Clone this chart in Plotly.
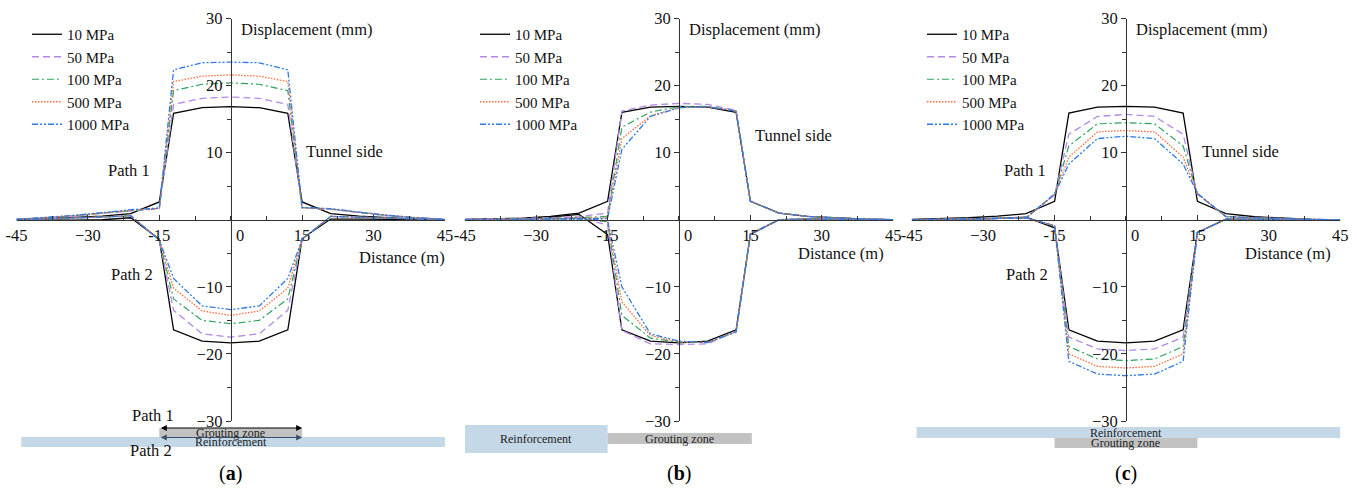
import plotly.graph_objects as go

# ---------------- data ----------------
distance = [-45, -39, -33, -27, -21, -15, -12, -6, 0, 6, 12, 15, 21, 27, 33, 39, 45]
series_names = ["10 MPa", "50 MPa", "100 MPa", "500 MPa", "1000 MPa"]

# panel (a) path 1 / path 2
a1_10 = [0.05, 0.15, 0.35, 0.55, 0.9, 2.65, 15.85, 16.7, 16.85, 16.7, 15.85, 2.65, 0.9, 0.55, 0.3, 0.1, 0.0]
a1_50 = [0.05, 0.25, 0.55, 0.95, 1.35, 1.65, 17.2, 18.1, 18.3, 18.1, 17.2, 1.75, 1.55, 1.05, 0.6, 0.3, 0.05]
a1_100 = [0.05, 0.3, 0.6, 1.0, 1.4, 1.7, 19.25, 20.2, 20.4, 20.2, 19.25, 1.8, 1.6, 1.1, 0.6, 0.3, 0.05]
a1_500 = [0.05, 0.3, 0.6, 1.0, 1.45, 1.7, 20.6, 21.4, 21.6, 21.4, 20.6, 1.8, 1.6, 1.1, 0.65, 0.3, 0.05]
a1_1000 = [0.05, 0.3, 0.65, 1.05, 1.5, 1.75, 22.35, 23.4, 23.5, 23.4, 22.35, 1.85, 1.65, 1.15, 0.65, 0.3, 0.05]
a2_10 = [0.0, -0.05, -0.05, 0.0, 0.3, -2.9, -16.4, -18.1, -18.35, -18.1, -16.4, -2.8, 0.1, 0.1, 0.05, 0.0, 0.0]
a2_50 = [0.0, 0.1, 0.2, 0.4, 0.6, -3.0, -13.5, -17.0, -17.5, -17.0, -13.5, -2.9, 0.5, 0.4, 0.2, 0.1, 0.0]
a2_100 = [0.0, 0.1, 0.2, 0.4, 0.6, -3.0, -11.8, -15.0, -15.5, -15.0, -11.8, -2.9, 0.5, 0.4, 0.2, 0.1, 0.0]
a2_500 = [0.0, 0.1, 0.2, 0.4, 0.6, -3.0, -10.2, -13.6, -14.25, -13.6, -10.2, -2.9, 0.5, 0.4, 0.2, 0.1, 0.0]
a2_1000 = [0.0, 0.1, 0.2, 0.4, 0.6, -3.0, -8.75, -12.85, -13.4, -12.85, -8.75, -2.9, 0.5, 0.4, 0.2, 0.1, 0.0]

# panel (b)
b1_10 = [0.05, 0.1, 0.25, 0.5, 1.0, 2.75, 16.0, 16.8, 16.9, 16.8, 16.0, 2.75, 1.0, 0.5, 0.25, 0.1, 0.0]
b1_50 = [0.05, 0.1, 0.2, 0.3, 0.45, 1.0, 16.2, 17.1, 17.35, 17.2, 16.3, 2.8, 1.0, 0.5, 0.25, 0.1, 0.0]
b1_100 = [0.0, 0.05, 0.1, 0.2, 0.3, 0.5, 13.8, 16.05, 16.85, 16.9, 16.2, 2.75, 1.0, 0.5, 0.25, 0.1, 0.0]
b1_500 = [0.0, 0.05, 0.1, 0.15, 0.25, 0.3, 12.1, 15.5, 16.7, 16.85, 16.2, 2.75, 1.0, 0.5, 0.25, 0.1, 0.0]
b1_1000 = [0.0, 0.05, 0.1, 0.15, 0.2, 0.2, 10.5, 15.4, 16.7, 16.85, 16.2, 2.75, 1.0, 0.5, 0.25, 0.1, 0.0]
b2_10 = [0.0, 0.05, 0.1, 0.4, 0.8, -2.2, -16.4, -18.1, -18.35, -18.1, -16.4, -2.2, 0.0, 0.1, 0.05, 0.0, 0.0]
b2_50 = [0.0, 0.05, 0.1, 0.2, 0.3, -0.8, -16.5, -18.5, -18.6, -18.5, -16.6, -2.2, 0.0, 0.1, 0.05, 0.0, 0.0]
b2_100 = [0.0, 0.0, 0.05, 0.1, 0.2, -0.3, -14.25, -17.65, -18.25, -18.3, -16.7, -2.1, 0.0, 0.1, 0.05, 0.0, 0.0]
b2_500 = [0.0, 0.0, 0.05, 0.1, 0.15, -0.2, -12.25, -17.25, -18.2, -18.3, -16.7, -2.1, 0.0, 0.1, 0.05, 0.0, 0.0]
b2_1000 = [0.0, 0.0, 0.05, 0.1, 0.1, -0.1, -10.0, -17.0, -18.1, -18.3, -16.7, -2.1, 0.0, 0.1, 0.05, 0.0, 0.0]

# panel (c)
c1_10 = [0.05, 0.15, 0.3, 0.55, 0.9, 2.75, 15.9, 16.8, 16.9, 16.8, 15.9, 2.75, 0.9, 0.45, 0.2, 0.05, 0.0]
c1_50 = [0.0, 0.05, 0.1, 0.15, 0.3, 3.7, 12.75, 15.4, 15.7, 15.4, 12.75, 3.8, 0.5, 0.3, 0.15, 0.05, 0.0]
c1_100 = [0.0, 0.05, 0.1, 0.15, 0.3, 3.75, 11.0, 14.3, 14.45, 14.3, 11.0, 3.85, 0.5, 0.3, 0.15, 0.05, 0.0]
c1_500 = [0.0, 0.05, 0.1, 0.15, 0.25, 3.8, 9.35, 13.1, 13.3, 13.1, 9.35, 3.9, 0.45, 0.3, 0.15, 0.05, 0.0]
c1_1000 = [0.0, 0.05, 0.1, 0.15, 0.25, 3.85, 8.3, 12.1, 12.45, 12.1, 8.3, 3.95, 0.45, 0.3, 0.15, 0.05, 0.0]
c2_10 = [0.0, 0.0, 0.05, 0.2, 0.4, -1.2, -16.4, -18.1, -18.35, -18.1, -16.4, -1.9, 0.1, 0.05, 0.0, 0.0, 0.0]
c2_50 = [-0.05, 0.0, 0.1, 0.2, 0.3, -0.9, -17.5, -19.25, -19.5, -19.25, -17.5, -1.9, 0.1, 0.05, 0.0, 0.0, 0.0]
c2_100 = [-0.05, 0.0, 0.1, 0.2, 0.3, -0.9, -18.9, -20.75, -21.0, -20.75, -18.9, -1.9, 0.1, 0.05, 0.0, 0.0, 0.0]
c2_500 = [-0.05, 0.0, 0.1, 0.2, 0.3, -0.9, -20.0, -21.85, -22.1, -21.85, -20.0, -1.9, 0.1, 0.05, 0.0, 0.0, 0.0]
c2_1000 = [-0.05, 0.0, 0.1, 0.2, 0.3, -0.9, -21.1, -23.0, -23.25, -23.0, -21.1, -1.9, 0.1, 0.05, 0.0, 0.0, 0.0]

x_tick_vals = [-45, -30, -15, 15, 30, 45]
x_tick_text = ["-45", "\u221230", "-15", "15", "30", "45"]
y_tick_vals = [-30, -20, -10, 10, 20, 30]
y_tick_text = ["\u221230", "\u221220", "\u221210", "10", "20", "30"]

# zones below each panel: (label, x0, x1)
zones_a = [("Grouting zone", -15, 15), ("Reinforcement", -44, 46)]
zones_b = [("Reinforcement", -45, -15), ("Grouting zone", -15, 15.3)]
zones_c = [("Reinforcement", -44, 46), ("Grouting zone", -15, 15)]

# ---------------- styling ----------------
FONT = "Liberation Serif"
FS = 16.5
W, H = 1357, 493
colors = ["#000000", "#b388eb", "#2ea35c", "#ff6a3c", "#2f7be8"]
dashes = ["solid", "7px,4px", "7px,3px,2px,3px", "1.5px,1.5px", "6px,2px,2px,2px,2px,2px"]
widths = [1.3, 1.3, 1.2, 1.3, 1.3]
x_domains = [[0.01216, 0.32786], [0.34252, 0.65822], [0.67192, 0.98762]]
y_domain = [1 - 421 / H, 1 - 18.5 / H]
legend_x = [27 / W, 475 / W, 922 / W]

panels = [
    ([a1_10, a1_50, a1_100, a1_500, a1_1000], [a2_10, a2_50, a2_100, a2_500, a2_1000]),
    ([b1_10, b1_50, b1_100, b1_500, b1_1000], [b2_10, b2_50, b2_100, b2_500, b2_1000]),
    ([c1_10, c1_50, c1_100, c1_500, c1_1000], [c2_10, c2_50, c2_100, c2_500, c2_1000]),
]

fig = go.Figure()
for p, (path1, path2) in enumerate(panels):
    xa = "x" if p == 0 else f"x{p+1}"
    ya = "y" if p == 0 else f"y{p+1}"
    lg = "legend" if p == 0 else f"legend{p+1}"
    for k in range(5):
        for path, show in ((path1, True), (path2, False)):
            fig.add_trace(go.Scatter(
                x=distance, y=path[k], mode="lines", name=series_names[k],
                line=dict(color=colors[k], dash=dashes[k], width=widths[k]),
                xaxis=xa, yaxis=ya, legend=lg, showlegend=show,
                hoverinfo="skip"))

layout = dict(
    width=W, height=H, margin=dict(l=0, r=0, t=0, b=0, autoexpand=False),
    paper_bgcolor="white", plot_bgcolor="white",
    font=dict(family=FONT, size=FS, color="#111111"),
)
axis_color = "#333333"
for p in range(3):
    sx = "" if p == 0 else str(p + 1)
    xd = x_domains[p]
    layout[f"xaxis{sx}"] = dict(
        domain=xd, range=[-45, 45], anchor="free",
        position=(y_domain[0] + y_domain[1]) / 2,
        showline=True, linecolor=axis_color, linewidth=1,
        showgrid=False, zeroline=False, automargin=False,
        tickmode="array", tickvals=x_tick_vals, ticktext=x_tick_text,
        ticks="inside", ticklen=5, tickcolor=axis_color,
        minor=dict(tickvals=[-37.5, -22.5, -7.5, 0, 7.5, 22.5, 37.5], ticks="inside", ticklen=4, tickcolor=axis_color),
        tickfont=dict(size=FS, family=FONT, color="#111111"),
        fixedrange=True,
    )
    layout[f"yaxis{sx}"] = dict(
        domain=y_domain, range=[-30, 30], anchor="free",
        position=(xd[0] + xd[1]) / 2,
        showline=True, linecolor=axis_color, linewidth=1,
        showgrid=False, zeroline=False, automargin=False,
        tickmode="array", tickvals=y_tick_vals, ticktext=y_tick_text,
        ticks="outside", ticklen=5, tickcolor=axis_color,
        minor=dict(tickvals=[-25, -15, -5, 5, 15, 25], ticks="outside", ticklen=4, tickcolor=axis_color),
        tickfont=dict(size=FS, family=FONT, color="#111111"),
        fixedrange=True,
    )
    lg = "legend" if p == 0 else f"legend{p+1}"
    layout[lg] = dict(
        x=legend_x[p], y=1 - 18 / H, xanchor="left", yanchor="top",
        bgcolor="rgba(0,0,0,0)", borderwidth=0, tracegroupgap=0,
        font=dict(size=15, family=FONT, color="#111111"),
    )
fig.update_layout(**layout)

ann = []
shapes = []
labels = ["a", "b", "c"]
# texts inside panels: (x, y) in data units per panel
disp_pos = [(16, 28.3), (16, 28.3), (16, 28.3)]
tunnel_pos = [(24, 10.1), (24, 12.6), (24, 10.1)]
dist_pos = [(36, -5.7), (34, -5.1), (34, -5.1)]
for p in range(3):
    sx = "" if p == 0 else str(p + 1)
    xr, yr = "x" + sx, "y" + sx
    ann.append(dict(text="Displacement (mm)", x=disp_pos[p][0], y=disp_pos[p][1], xref=xr, yref=yr, showarrow=False))
    ann.append(dict(text="Tunnel side", x=tunnel_pos[p][0], y=tunnel_pos[p][1], xref=xr, yref=yr, showarrow=False))
    ann.append(dict(text="Distance (m)", x=dist_pos[p][0], y=dist_pos[p][1], xref=xr, yref=yr, showarrow=False))
    ann.append(dict(text="0", x=0, y=0, xref=xr, yref=yr, showarrow=False, xanchor="left", yanchor="top", xshift=3, yshift=-4))
    if p != 1:
        ann.append(dict(text="Path 1", x=-21.3, y=7.4, xref=xr, yref=yr, showarrow=False))
        ann.append(dict(text="Path 2", x=-20.8, y=-8.2, xref=xr, yref=yr, showarrow=False))
    ann.append(dict(text=f"(<b>{labels[p]}</b>)", x=0, y=1 - 473 / H, xref=xr, yref="paper",
                    yanchor="middle", showarrow=False, font=dict(size=20, family=FONT, color="#000000")))

BLUE_FILL = "#c4d8e8"
GRAY_FILL = "#c2c2c2"
zone_rows = [
    (zones_a, [(428, 437), (437, 447)]),
    (zones_b, [(425, 453), (433, 444)]),
    (zones_c, [(427, 438), (438, 448)]),
]
for p, (zones, ys) in enumerate(zone_rows):
    sx = "" if p == 0 else str(p + 1)
    xr = "x" + sx
    for (name, x0, x1), (py0, py1) in zip(zones, ys):
        fill = GRAY_FILL if name.startswith("Grouting") else BLUE_FILL
        shapes.append(dict(type="rect", xref=xr, yref="paper", x0=x0, x1=x1,
                           y0=1 - py1 / H, y1=1 - py0 / H, fillcolor=fill, line=dict(width=0), layer="below"))
        ty = (py0 + py1) / 2
        ann.append(dict(text=name, x=(x0 + x1) / 2 if p == 1 else 0, y=1 - ty / H, xref=xr, yref="paper",
                        yanchor="middle", showarrow=False, font=dict(size=12, family=FONT, color="#222222")))

# arrows for panel (a)
for py, col in ((428, "#000000"), (437.5, "#3b5068")):
    ann.append(dict(text="", x=15, y=1 - py / H, xref="x", yref="paper", ax=-15, ay=0,
                    axref="x", ayref="pixel", showarrow=True, arrowside="end+start",
                    arrowhead=2, arrowsize=1, arrowwidth=1.2, arrowcolor=col, standoff=0, startstandoff=0))
ann.append(dict(text="Path 1", x=-16.3, y=1 - 415 / H, xref="x", yref="paper", yanchor="middle", showarrow=False))
ann.append(dict(text="Path 2", x=-16.7, y=1 - 450 / H, xref="x", yref="paper", yanchor="middle", showarrow=False))

fig.update_layout(annotations=ann, shapes=shapes)
fig.write_html("out.html", config={"displayModeBar": False},
               post_script="document.body.style.margin='0';document.body.style.padding='0';")
